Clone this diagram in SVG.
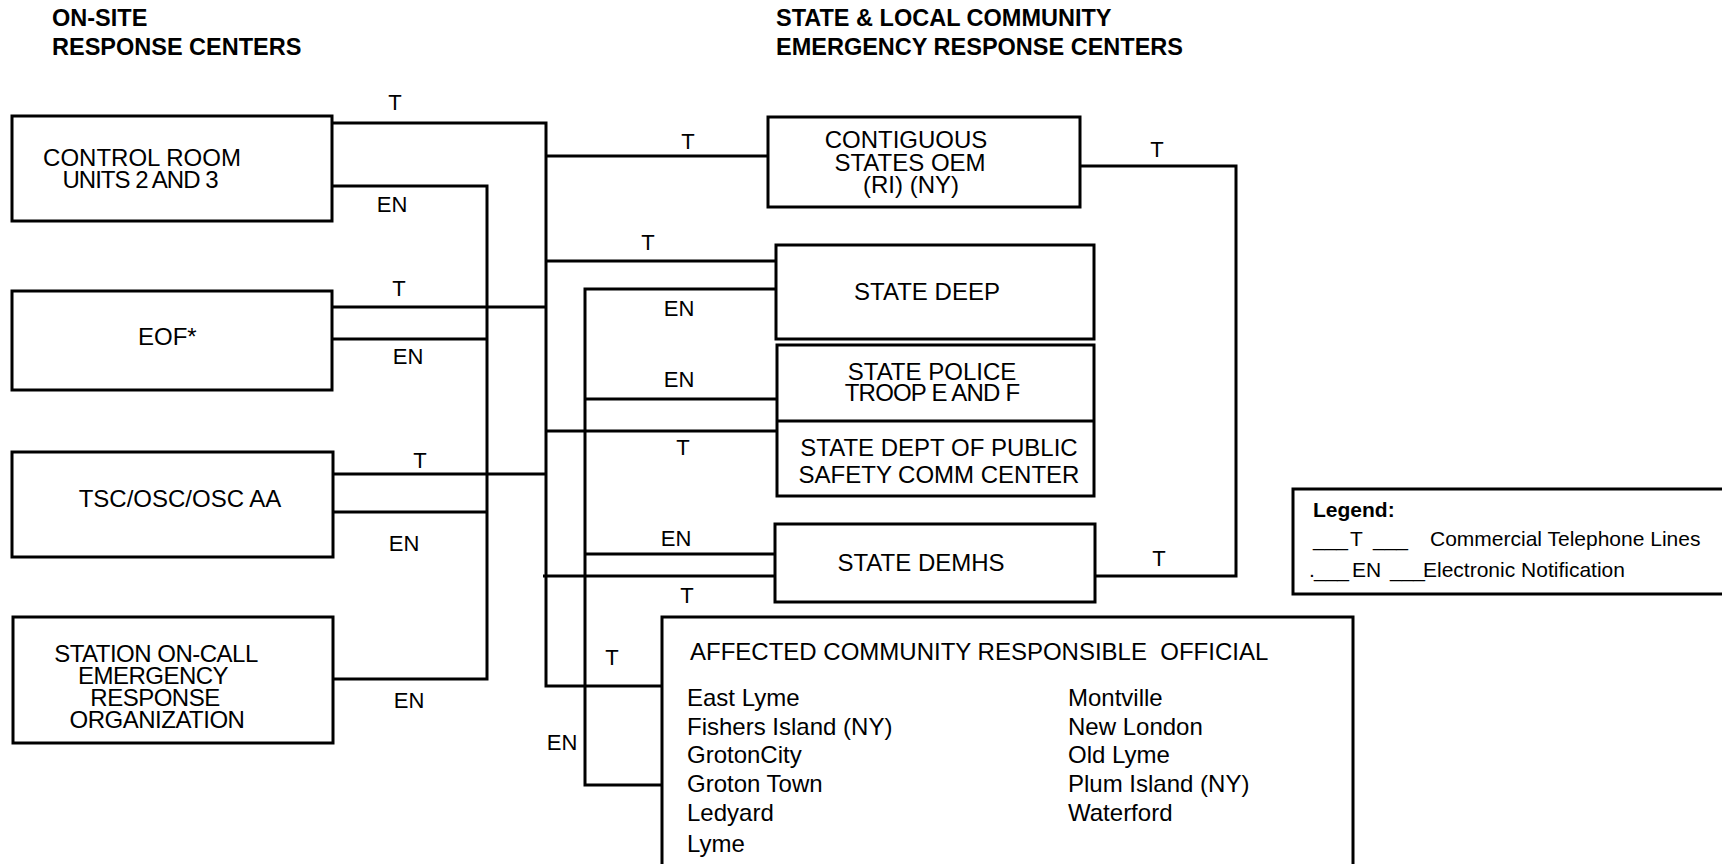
<svg xmlns="http://www.w3.org/2000/svg" width="1722" height="864" viewBox="0 0 1722 864">
<style>
.box{fill:#fff;stroke:#000;stroke-width:3}
.ln{fill:none;stroke:#000;stroke-width:3}
text{font-family:"Liberation Sans",Arial,sans-serif;fill:#000}
.t{font-size:24px}
.c{text-anchor:middle}
.lbl{font-size:22px;text-anchor:middle}
.hdr{font-size:23.5px;font-weight:bold}
.lg{font-size:21px}
</style>
<rect width="1722" height="864" fill="#fff"/>
<g id="headers">
<text class="hdr" x="52" y="26">ON-SITE</text>
<text class="hdr" x="52" y="55">RESPONSE CENTERS</text>
<text class="hdr" x="776" y="26">STATE &amp; LOCAL COMMUNITY</text>
<text class="hdr" x="776" y="55">EMERGENCY RESPONSE CENTERS</text>
</g>
<g id="connectors">
<path class="ln" d="M332,123 H546 V686 H662"/>
<path class="ln" d="M332,307 H546"/>
<path class="ln" d="M333,474 H546"/>
<path class="ln" d="M546,156 H768"/>
<path class="ln" d="M546,261 H776"/>
<path class="ln" d="M546,431 H777"/>
<path class="ln" d="M543,576 H775"/>
<path class="ln" d="M332,186 H487 V679 H333"/>
<path class="ln" d="M332,339 H487"/>
<path class="ln" d="M333,512 H487"/>
<path class="ln" d="M776,289 H585 V785 H662"/>
<path class="ln" d="M585,399 H777"/>
<path class="ln" d="M585,554 H775"/>
<path class="ln" d="M1080,166 H1236 V576 H1095"/>
<text class="lbl" x="395" y="110">T</text>
<text class="lbl" x="392" y="212">EN</text>
<text class="lbl" x="399" y="296">T</text>
<text class="lbl" x="408" y="364">EN</text>
<text class="lbl" x="420" y="468">T</text>
<text class="lbl" x="404" y="551">EN</text>
<text class="lbl" x="409" y="708">EN</text>
<text class="lbl" x="688" y="149">T</text>
<text class="lbl" x="648" y="250">T</text>
<text class="lbl" x="679" y="316">EN</text>
<text class="lbl" x="679" y="387">EN</text>
<text class="lbl" x="683" y="455">T</text>
<text class="lbl" x="676" y="546">EN</text>
<text class="lbl" x="687" y="603">T</text>
<text class="lbl" x="612" y="665">T</text>
<text class="lbl" x="562" y="750">EN</text>
<text class="lbl" x="1157" y="157">T</text>
<text class="lbl" x="1159" y="566">T</text>
</g>
<g id="control-room">
<rect class="box" x="12" y="116" width="320" height="105"/>
<text class="t c" x="142" y="166">CONTROL ROOM</text>
<text class="t c" x="140" y="188" letter-spacing="-1">UNITS 2 AND 3</text>
</g>
<g id="eof">
<rect class="box" x="12" y="291" width="320" height="99"/>
<text class="t" x="138" y="345">EOF*</text>
</g>
<g id="tsc">
<rect class="box" x="12" y="452" width="321" height="105"/>
<text class="t c" x="180" y="507">TSC/OSC/OSC AA</text>
</g>
<g id="station-on-call">
<rect class="box" x="13" y="617" width="320" height="126"/>
<text class="t c" x="156" y="662" letter-spacing="-0.5">STATION ON-CALL</text>
<text class="t c" x="153" y="684" letter-spacing="-0.5">EMERGENCY</text>
<text class="t c" x="155" y="706" letter-spacing="-0.5">RESPONSE</text>
<text class="t c" x="157" y="728" letter-spacing="-0.5">ORGANIZATION</text>
</g>
<g id="contiguous-states">
<rect class="box" x="768" y="117" width="312" height="90"/>
<text class="t c" x="906" y="148">CONTIGUOUS</text>
<text class="t c" x="910" y="171">STATES OEM</text>
<text class="t c" x="911" y="193">(RI) (NY)</text>
</g>
<g id="state-deep">
<rect class="box" x="776" y="245" width="318" height="94"/>
<text class="t c" x="927" y="300">STATE DEEP</text>
</g>
<g id="state-police">
<rect class="box" x="777" y="345" width="317" height="151"/>
<line class="ln" x1="777" y1="421" x2="1094" y2="421"/>
<text class="t c" x="932" y="380">STATE POLICE</text>
<text class="t c" x="932" y="401" letter-spacing="-0.8">TROOP E AND F</text>
<text class="t c" x="939" y="456">STATE DEPT OF PUBLIC</text>
<text class="t c" x="939" y="483">SAFETY COMM CENTER</text>
</g>
<g id="state-demhs">
<rect class="box" x="775" y="524" width="320" height="78"/>
<text class="t c" x="921" y="571">STATE DEMHS</text>
</g>
<g id="affected-community">
<rect class="box" x="662" y="617" width="691" height="270"/>
<text class="t" x="690" y="660" xml:space="preserve">AFFECTED COMMUNITY RESPONSIBLE  OFFICIAL</text>
<text class="t" x="687" y="706">East Lyme</text>
<text class="t" x="687" y="735">Fishers Island (NY)</text>
<text class="t" x="687" y="763">GrotonCity</text>
<text class="t" x="687" y="792">Groton Town</text>
<text class="t" x="687" y="821">Ledyard</text>
<text class="t" x="687" y="852">Lyme</text>
<text class="t" x="1068" y="706">Montville</text>
<text class="t" x="1068" y="735">New London</text>
<text class="t" x="1068" y="763">Old Lyme</text>
<text class="t" x="1068" y="792">Plum Island (NY)</text>
<text class="t" x="1068" y="821">Waterford</text>
</g>
<g id="legend">
<rect class="box" x="1293" y="489" width="440" height="105"/>
<text class="lg" x="1313" y="517" font-weight="bold" font-size="22">Legend:</text>
<text class="lg" y="546"><tspan x="1313">___</tspan><tspan x="1350">T</tspan><tspan x="1373">___</tspan><tspan x="1430">Commercial Telephone Lines</tspan></text>
<text class="lg" y="577"><tspan x="1309">.</tspan><tspan x="1314">___</tspan><tspan x="1352">EN</tspan><tspan x="1390">___</tspan><tspan x="1423">Electronic Notification</tspan></text>
</g>
</svg>
